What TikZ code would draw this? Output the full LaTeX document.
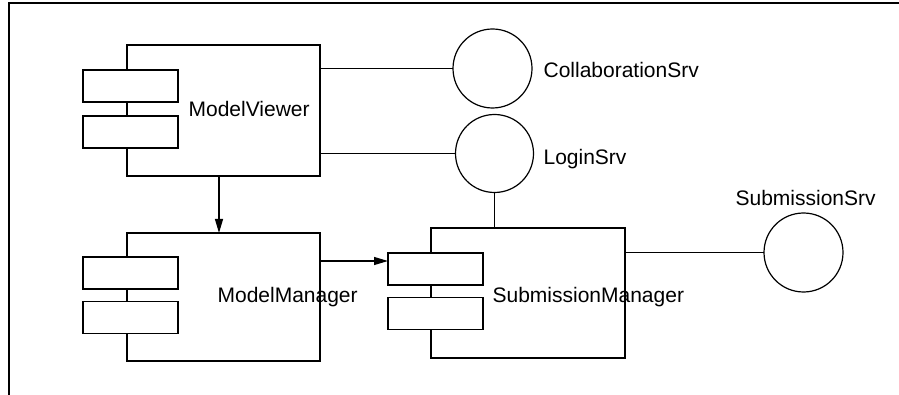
\documentclass[tikz,border=0pt]{standalone}
\usepackage{fontspec}
\setmainfont{Liberation Sans}
\usetikzlibrary{positioning, arrows.meta}

\tikzset{
  comp/.style={draw, line width=1.2pt, inner sep=0pt, outer sep=0pt, minimum width=193pt, minimum height=130pt},
  port/.style={draw, fill=white, line width=1.2pt, inner sep=0pt, outer sep=0pt, minimum width=95pt, minimum height=32pt},
  iface/.style={draw, circle, line width=1.2pt, inner sep=0pt, outer sep=0pt, minimum size=79pt},
  lbl/.style={anchor=base west, inner sep=0pt, font=\fontsize{21}{25}\selectfont},
}

\begin{document}
\begin{tikzpicture}[x=1pt, y=-1pt, line width=1.2pt]
          \useasboundingbox (0,0) rectangle (899,395);
          \draw (9,395) -- (9,3) -- (899,3);

          \begin{scope}
            \node (mv) [comp, minimum height=131pt] at (223.5,110.5) {};
            \node (mvA) [port] at (130.5,86) {};
            \node (mvB) [port] at (130.5,132) {};
            \node (mvLbl) [lbl] at (188,117) {ModelViewer};

            \node (mm) [comp, minimum height=128pt] at (223.5,297) {};
            \node (mmA) [port] at (130.5,273) {};
            \node (mmB) [port] at (130.5,317.5) {};

            \node (sm) [comp, minimum width=194pt] at (528,293) {};
            \node (smA) [port] at (435.5,269) {};
            \node (smB) [port] at (435.5,313.5) {};

            \node (mmLbl) [lbl] at (217,302) {ModelManager};
            \node (smLbl) [lbl] at (492,302) {SubmissionManager};
          \end{scope}

          \begin{scope}
            \node (collab) [iface] at (492.5,68.5) {};
            \node (login) [iface, minimum size=78pt] at (494.5,153.5) {};
            \node (subsrv) [iface] at (803.5,252.5) {};
            \node (collabLbl) [lbl] at (543,78) {CollaborationSrv};
            \node (loginLbl) [lbl] at (543,165) {LoginSrv};
            \node (subsrvLbl) [lbl] at (735,206) {SubmissionSrv};
          \end{scope}

          \coordinate (mvOut) at ([xshift=-4.5pt]mv.south);
          \coordinate (mmOut) at ([yshift=-28pt]mm.north east);

          \draw (collab.west) -- (collab.west -| mv.east);
          \draw (login.west) -- (login.west -| mv.east);
          \draw (login.south) -- (login.south |- sm.north);
          \draw (subsrv.west) -- (subsrv.west -| sm.east);

          \begin{scope}[-{Triangle[length=14pt,width=8pt]}]
            \draw (mvOut) -- (mvOut |- mm.north);
            \draw (mmOut) -- (mmOut -| smA.west);
          \end{scope}
        \end{tikzpicture}
\end{document}
